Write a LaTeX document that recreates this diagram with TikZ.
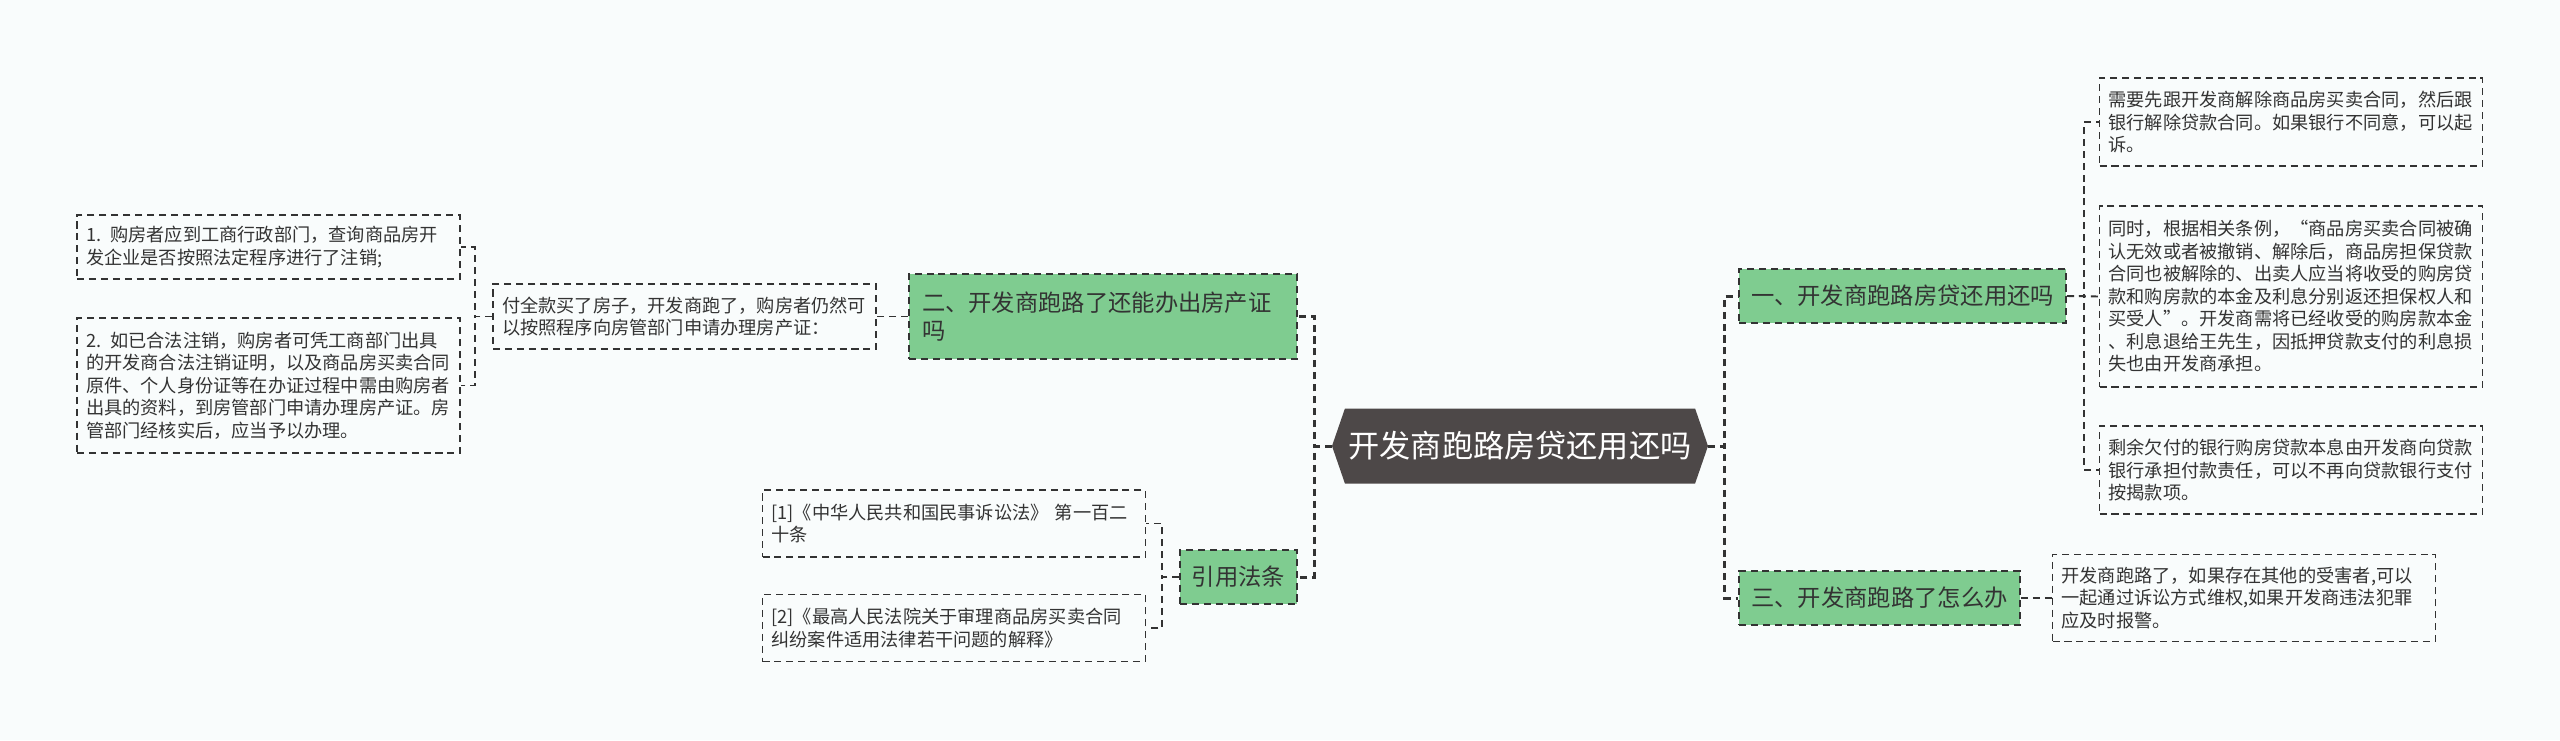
\documentclass[tikz,border=0pt]{standalone}
\usepackage{fontspec}
\setmainfont{Noto Sans CJK SC}
\usepackage{tikz}
\usetikzlibrary{shapes.symbols}

\definecolor{bgc}{RGB}{249,252,252}
\definecolor{greenc}{RGB}{127,204,144}
\definecolor{hubc}{RGB}{77,72,72}
\definecolor{linec}{RGB}{51,51,51}
\definecolor{txtc}{RGB}{51,51,51}

\newcommand\leaffont{\fontsize{10.36}{12.8}\selectfont}
\newcommand\topicfont{\fontsize{13.26}{15.9}\selectfont}
\newcommand\hubfont{\fontsize{17.75}{21}\selectfont}

\begin{document}
\begin{tikzpicture}

  \tikzset{leaf/.style={draw=linec, dash pattern=on 4pt off 2.8pt, line width=1.1pt,
                        text=txtc, align=left, text width=7.3cm, inner xsep=0.18cm,
                        font=\leaffont},
           topic/.style={draw=linec, fill=greenc, dash pattern=on 4pt off 2.8pt,
                         line width=1.1pt, text=txtc, align=center,
                         minimum height=1.08cm, inner xsep=0.2cm, font=\topicfont},
           hub/.style={shape=signal, signal to=west and east, signal pointer angle=142,
                       fill=hubc, text=white, font=\hubfont,
                       minimum width=7.52cm, minimum height=1.5cm, inner sep=2pt},
           link/.style={draw=linec, dash pattern=on 4pt off 2.8pt, line width=1.1pt},
           trunk/.style={draw=linec, dash pattern=on 4pt off 2.8pt, line width=1.7pt}}

  \useasboundingbox[fill=bgc] (0,0) rectangle (51.2,-14.8);

  % centre
  \node[hub] (hub) at (30.40,-8.92) {开发商跑路房贷还用还吗};

  % left branch: 二
  \node[topic, align=left, text width=7.24cm, inner xsep=0.26cm,
        minimum height=1.70cm] (t2) at (22.06,-6.33)
    {二、开发商跑路了还能办出房产证\\吗};
  \node[leaf, minimum height=1.30cm] (t2a) at (13.69,-6.33)
    {付全款买了房子，开发商跑了，购房者仍然可\\以按照程序向房管部门申请办理房产证：};
  \node[leaf, minimum height=1.28cm] (t2a1) at (5.37,-4.94)
    {1. 购房者应到工商行政部门，查询商品房开\\发企业是否按照法定程序进行了注销;};
  \node[leaf, minimum height=2.70cm] (t2a2) at (5.37,-7.71)
    {2. 如已合法注销，购房者可凭工商部门出具\\的开发商合法注销证明，以及商品房买卖合同\\原件、个人身份证等在办证过程中需由购房者\\出具的资料，到房管部门申请办理房产证。房\\管部门经核实后，应当予以办理。};

  % left branch: 引用法条
  \node[topic, minimum width=2.34cm] (law) at (24.77,-11.54) {引用法条};
  \node[leaf, minimum height=1.34cm] (law1) at (19.08,-10.47)
    {[1]《中华人民共和国民事诉讼法》 第一百二\\十条};
  \node[leaf, minimum height=1.34cm] (law2) at (19.08,-12.56)
    {[2]《最高人民法院关于审理商品房买卖合同\\纠纷案件适用法律若干问题的解释》};

  % right branch: 一
  \node[topic, minimum width=6.54cm] (t1) at (38.05,-5.92) {一、开发商跑路房贷还用还吗};
  \node[leaf, minimum height=1.76cm] (t1a) at (45.82,-2.44)
    {需要先跟开发商解除商品房买卖合同，然后跟\\银行解除贷款合同。如果银行不同意，可以起\\诉。};
  \node[leaf, minimum height=3.62cm] (t1b) at (45.82,-5.93)
    {同时，根据相关条例，“商品房买卖合同被确\\认无效或者被撤销、解除后，商品房担保贷款\\合同也被解除的、出卖人应当将收受的购房贷\\款和购房款的本金及利息分别返还担保权人和\\买受人”。开发商需将已经收受的购房款本金\\、利息退给王先生，因抵押贷款支付的利息损\\失也由开发商承担。};
  \node[leaf, minimum height=1.76cm] (t1c) at (45.82,-9.40)
    {剩余欠付的银行购房贷款本息由开发商向贷款\\银行承担付款责任，可以不再向贷款银行支付\\按揭款项。};

  % right branch: 三
  \node[topic, minimum width=5.62cm] (t3) at (37.59,-11.96) {三、开发商跑路了怎么办};
  \node[leaf, minimum height=1.74cm] (t3a) at (44.88,-11.96)
    {开发商跑路了，如果存在其他的受害者,可以\\一起通过诉讼方式维权,如果开发商违法犯罪\\应及时报警。};

  % connectors
  \draw[trunk] (hub.west) -- ++(-0.34,0) |- (t2.east);
  \draw[trunk] (hub.west) -- ++(-0.34,0) |- (law.east);
  \draw[trunk] (hub.east) -- ++(0.32,0) |- (t1.west);
  \draw[trunk] (hub.east) -- ++(0.32,0) |- (t3.west);

  \draw[link] (t2.west) -- (t2a.east);
  \draw[link] (t2a.west) -- ++(-0.34,0) |- (t2a1.east);
  \draw[link] (t2a.west) -- ++(-0.34,0) |- (t2a2.east);

  \draw[link] (law.west) -- ++(-0.34,0) |- (law1.east);
  \draw[link] (law.west) -- ++(-0.34,0) |- (law2.east);

  \draw[link] (t1.east) -- ++(0.34,0) |- (t1a.west);
  \draw[link] (t1.east) -- (t1b.west);
  \draw[link] (t1.east) -- ++(0.34,0) |- (t1c.west);

  \draw[link] (t3.east) -- (t3a.west);

\end{tikzpicture}
\end{document}
